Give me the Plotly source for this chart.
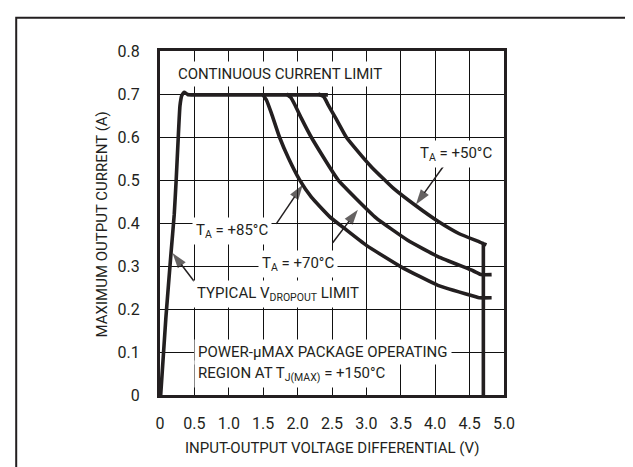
import plotly.graph_objects as go

# ---------------- data ----------------
x_ticks = [0, 0.5, 1.0, 1.5, 2.0, 2.5, 3.0, 3.5, 4.0, 4.5, 5.0]
x_tick_labels = ["0", "0.5", "1.0", "1.5", "2.0", "2.5", "3.0", "3.5", "4.0", "4.5", "5.0"]
y_ticks = [0, 0.1, 0.2, 0.3, 0.4, 0.5, 0.6, 0.7, 0.8]
y_tick_labels = ["0", "0.1", "0.2", "0.3", "0.4", "0.5", "0.6", "0.7", "0.8"]

# typical dropout limit + continuous current limit (0.7 A)
dropout_v = [0.01, 0.085, 0.16, 0.207, 0.235, 0.265, 0.29, 0.318, 0.352, 0.40, 0.5, 2.44]
dropout_i = [0.0, 0.179, 0.33, 0.42, 0.50, 0.598, 0.672, 0.697, 0.704, 0.699, 0.698, 0.698]

# TA = +85C
v85 = [1.49, 1.55, 1.62, 1.736, 1.87, 2.027, 2.2, 2.464, 2.7, 3.0, 3.51, 4.04, 4.576, 4.64, 4.82]
i85 = [0.700, 0.685, 0.655, 0.600, 0.550, 0.501, 0.460, 0.415, 0.385, 0.348, 0.2975, 0.255, 0.229, 0.226, 0.226]

# TA = +70C
v70 = [1.84, 1.90, 1.96, 2.05, 2.197, 2.585, 3.14, 3.6, 4.04, 4.55, 4.67, 4.82]
i70 = [0.700, 0.692, 0.675, 0.645, 0.600, 0.501, 0.412, 0.360, 0.322, 0.289, 0.280, 0.280]

# TA = +50C
v50 = [2.30, 2.38, 2.44, 2.55, 2.706, 2.9, 3.07, 3.24, 3.39, 3.72, 4.04, 4.35, 4.649, 4.70, 4.745]
i50 = [0.700, 0.694, 0.676, 0.645, 0.600, 0.562, 0.531, 0.504, 0.481, 0.440, 0.404, 0.375, 0.3557, 0.352, 0.349]

# package operating region (thermal) right-hand limit
limit_v = [4.70, 4.70]
limit_i = [0.352, 0.0]

# callout arrows: (tail V, tail I) -> (tip V, tip I)
arrow_50_v = [4.12, 3.72]
arrow_50_i = [0.532, 0.443]
arrow_85_v = [1.69, 2.075]
arrow_85_i = [0.398, 0.489]
arrow_70_v = [2.51, 2.876]
arrow_70_i = [0.354, 0.431]
arrow_do_v = [0.498, 0.182]
arrow_do_i = [0.264, 0.330]

FONT = "Roboto, Liberation Sans, Arial, sans-serif"
INK = "#231f20"
FS = 15

fig = go.Figure()
for xs, ys in [(dropout_v, dropout_i), (v85, i85), (v70, i70), (v50, i50), (limit_v, limit_i)]:
    fig.add_trace(go.Scatter(x=xs, y=ys, mode="lines",
                             line=dict(color=INK, width=3.6, shape="spline", smoothing=0.4),
                             showlegend=False, hoverinfo="skip"))

for xs, ys in [(arrow_50_v, arrow_50_i), (arrow_85_v, arrow_85_i),
               (arrow_70_v, arrow_70_i), (arrow_do_v, arrow_do_i)]:
    fig.add_trace(go.Scatter(x=xs, y=ys, mode="lines+markers",
                             line=dict(color=INK, width=1.5),
                             marker=dict(symbol="arrow", size=[0, 16], color=INK,
                                         angleref="previous", line=dict(width=0)),
                             showlegend=False, hoverinfo="skip"))

def label(x, y, text, xanchor="center", align="center"):
    fig.add_annotation(x=x, y=y, xref="x", yref="y", text=text, showarrow=False,
                       xanchor=xanchor, yanchor="middle", align=align,
                       bgcolor="white", borderpad=3,
                       font=dict(family=FONT, size=FS, color=INK))

label(0.21, 0.746, "CONTINUOUS CURRENT LIMIT", xanchor="left")
label(4.30, 0.560, "T<sub>A</sub> = +50°C")
label(1.044, 0.382, "T<sub>A</sub> = +85°C")
label(2.013, 0.305, "T<sub>A</sub> = +70°C")
label(0.485, 0.235, "TYPICAL V<sub>DROPOUT</sub> LIMIT", xanchor="left")
label(0.487, 0.101, "POWER-µMAX PACKAGE OPERATING", xanchor="left")
label(0.487, 0.048, "REGION AT T<sub>J(MAX)</sub> = +150°C", xanchor="left")

# axis titles
fig.add_annotation(x=0.5016, y=-0.153, xref="paper", yref="paper", showarrow=False,
                   text="INPUT-OUTPUT VOLTAGE DIFFERENTIAL (V)",
                   font=dict(family=FONT, size=FS, color=INK), xanchor="center", yanchor="middle")
fig.add_annotation(x=-0.1675, y=0.497, xref="paper", yref="paper", showarrow=False,
                   text="MAXIMUM OUTPUT CURRENT (A)", textangle=-90,
                   font=dict(family=FONT, size=FS, color=INK), xanchor="center", yanchor="middle")

# outer frame
fig.add_shape(type="rect", xref="paper", yref="paper", x0=-0.418, x1=1.373, y0=-0.27, y1=1.097,
              line=dict(color=INK, width=2), fillcolor="rgba(0,0,0,0)", layer="above")

axis_common = dict(showgrid=True, gridcolor="#111111", gridwidth=1, zeroline=False,
                   showline=True, linecolor=INK, linewidth=3, mirror=True,
                   ticks="", tickfont=dict(family=FONT, size=16, color=INK))
fig.update_xaxes(range=[0, 5], tickvals=x_ticks, ticktext=x_tick_labels,
                 ticklabelstandoff=12, **axis_common)
fig.update_yaxes(range=[0, 0.8], tickvals=y_ticks, ticktext=y_tick_labels,
                 ticklabelstandoff=14, **axis_common)

fig.update_layout(width=633, height=467, margin=dict(l=152, r=137, t=43, b=80),
                  plot_bgcolor="white", paper_bgcolor="white", showlegend=False)

fig.write_html("out.html")
